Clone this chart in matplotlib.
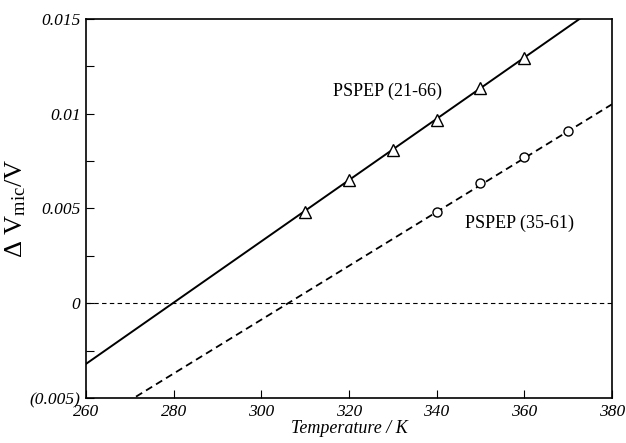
import matplotlib
matplotlib.use("Agg")
import matplotlib.pyplot as plt
from matplotlib.ticker import FixedLocator, FixedFormatter

# Data
temp_a = [310, 320, 330, 340, 350, 360]
dv_a = [0.00484, 0.00653, 0.0081, 0.00968, 0.01137, 0.01295]
temp_b = [340, 350, 360, 370]
dv_b = [0.00484, 0.00632, 0.00774, 0.0091]
line_a_T = [260, 380]
line_a_V = [-0.0032, 0.0162]
line_b_T = [260, 380]
line_b_V = [-0.00655, 0.0105]
xticks = [260, 280, 300, 320, 340, 360, 380]
yticks = [-0.005, 0, 0.005, 0.01, 0.015]
yticklabels = ["(0.005)", "0", "0.005", "0.01", "0.015"]
label_a = "PSPEP (21-66)"
label_b = "PSPEP (35-61)"

plt.rcParams['font.family'] = ['Liberation Serif', 'DejaVu Serif']
plt.rcParams['mathtext.fontset'] = 'custom'
plt.rcParams['mathtext.rm'] = 'Liberation Serif'
plt.rcParams['mathtext.it'] = 'Liberation Serif:italic'
fig = plt.figure(figsize=(6.26, 4.43), dpi=100)
ax = fig.add_axes([0.1374, 0.1016, 0.8402, 0.8555])

ax.axhline(0, color='black', lw=0.8, ls=(0, (4, 3)))
ax.plot(line_a_T, line_a_V, color='black', lw=1.4)
ax.plot(line_b_T, line_b_V, color='black', lw=1.3, ls=(0, (4, 2.5)))
ax.plot(temp_a, dv_a, ls='none', marker='^', ms=8.5, mfc='white', mec='black', mew=1.0)
ax.plot(temp_b, dv_b, ls='none', marker='o', ms=6.5, mfc='white', mec='black', mew=1.0)

ax.set_xlim(260, 380)
ax.set_ylim(-0.005, 0.015)
ax.xaxis.set_major_locator(FixedLocator(xticks))
ax.yaxis.set_major_locator(FixedLocator(yticks))
ax.yaxis.set_major_formatter(FixedFormatter(yticklabels))
ax.yaxis.set_minor_locator(FixedLocator([-0.0025, 0.0025, 0.0075, 0.0125]))
ax.tick_params(direction='in', length=6, width=0.8, top=False, right=False, pad=4)
ax.tick_params(which='minor', direction='in', length=6, width=0.8, right=False)
for lab in ax.get_xticklabels() + ax.get_yticklabels():
    lab.set_fontstyle('italic')
    lab.set_fontsize(12.5)
for s in ax.spines.values():
    s.set_linewidth(1.2)

ax.set_xlabel("Temperature / K", fontstyle='italic', fontsize=13, labelpad=0)
ax.set_ylabel(r"$\Delta$ V$_{\mathrm{mic}}$/V", fontsize=19, labelpad=1)

ax.text(316.4, 0.0112, label_a, fontsize=13, va='center', ha='left')
ax.text(346.5, 0.0042, label_b, fontsize=13, va='center', ha='left')

fig.savefig("out.png", dpi=100)
